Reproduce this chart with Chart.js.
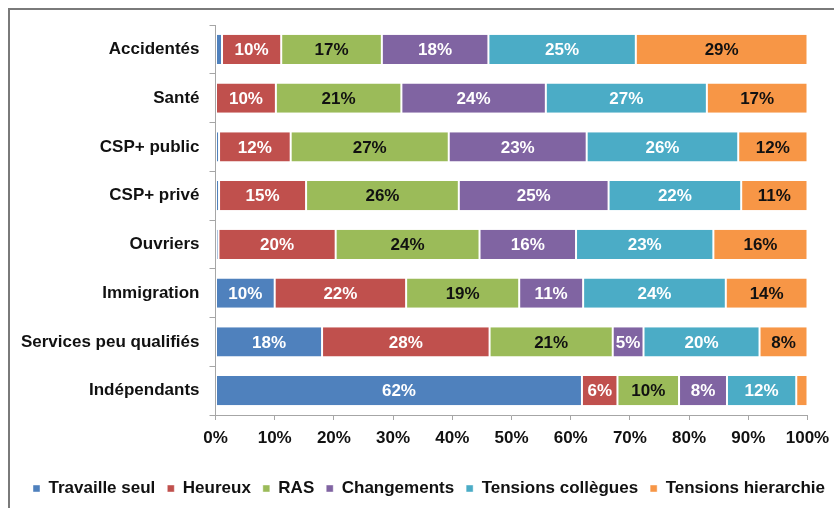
<!DOCTYPE html>
<html>
<head>
<meta charset="utf-8">
<script src="https://cdn.jsdelivr.net/npm/chart.js@4.4.1/dist/chart.umd.min.js"></script>
<style>
  html, body { margin: 0; padding: 0; background: #fff; }
  #wrap { width: 834px; height: 508px; position: relative; }
</style>
</head>
<body>
<div id="wrap"><canvas id="chart" width="834" height="508"></canvas></div>
<script>
// Catégories (axe vertical)
const categories = ["Accidentés", "Santé", "CSP+ public", "CSP+ privé", "Ouvriers", "Immigration", "Services peu qualifiés", "Indépendants"];

// Séries (en %)
const travailleSeul = [1.1, 0, 0.6, 0.6, 0.5, 10.0, 18.0, 61.9];
const heureux = [10.0, 10.2, 12.1, 14.7, 19.8, 22.2, 28.3, 6.0];
const ras = [17.0, 21.2, 26.7, 25.8, 24.3, 19.1, 20.8, 10.4];
const changements = [18.0, 24.4, 23.3, 25.3, 16.3, 10.8, 5.2, 8.1];
const tensionsCollegues = [24.9, 27.2, 25.6, 22.4, 23.2, 24.1, 19.6, 11.7];
const tensionsHierarchie = [29.0, 17.0, 11.7, 11.2, 15.9, 13.8, 8.1, 1.9];

// Graduations de l'axe horizontal
const xTicks = [0, 10, 20, 30, 40, 50, 60, 70, 80, 90, 100];

const FONT = "'Liberation Sans', Arial, sans-serif";

function serie(label, data, color, textColor) {
  return {
    label,
    data,
    backgroundColor: color,
    borderColor: "rgba(255,255,255,0.85)",
    borderWidth: { left: 1, right: 1, top: 0, bottom: 0 },
    borderSkipped: false,
    barPercentage: 0.6,
    categoryPercentage: 1,
    textColor
  };
}

// Etiquettes de valeur au centre des segments
const etiquettes = {
  id: "etiquettes",
  afterDatasetsDraw(chart) {
    const ctx = chart.ctx;
    ctx.save();
    ctx.font = "bold 17px " + FONT;
    ctx.textAlign = "center";
    ctx.textBaseline = "middle";
    chart.data.datasets.forEach((ds, i) => {
      const meta = chart.getDatasetMeta(i);
      meta.data.forEach((bar, j) => {
        const v = ds.data[j];
        if (v < 4) return;
        const p = bar.getCenterPoint();
        ctx.fillStyle = ds.textColor;
        ctx.fillText(Math.round(v) + "%", p.x, p.y + 1);
      });
    });
    ctx.restore();
  }
};

// Cadre gris + décalage de la légende
const cadre = {
  id: "cadre",
  afterLayout(chart) {
    chart.legend.left += 12;
    chart.legend.right += 12;
  },
  beforeDraw(chart) {
    const ctx = chart.ctx;
    ctx.save();
    ctx.strokeStyle = "#7a7a7a";
    ctx.lineWidth = 2;
    ctx.strokeRect(9, 9, 900, 600);
    ctx.restore();
  }
};

new Chart(document.getElementById("chart"), {
  type: "bar",
  data: {
    labels: categories,
    datasets: [
      serie("Travaille seul", travailleSeul, "#4f81bd", "#fff"),
      serie("Heureux", heureux, "#c0504d", "#fff"),
      serie("RAS", ras, "#9bbb59", "#111"),
      serie("Changements", changements, "#8064a2", "#fff"),
      serie("Tensions collègues", tensionsCollegues, "#4bacc6", "#fff"),
      serie("Tensions hierarchie", tensionsHierarchie, "#f79646", "#111")
    ]
  },
  options: {
    indexAxis: "y",
    responsive: false,
    animation: false,
    layout: { padding: { top: 25, left: 0, right: 0, bottom: 1 } },
    plugins: {
      legend: {
        position: "bottom",
        labels: {
          boxWidth: 7,
          boxHeight: 7,
          padding: 12,
          color: "#111",
          font: { family: FONT, size: 17, weight: "bold" }
        }
      },
      tooltip: { enabled: false }
    },
    scales: {
      x: {
        stacked: true,
        min: 0,
        max: 100,
        afterBuildTicks(scale) {
          scale.ticks = xTicks.map(v => ({ value: v }));
        },
        afterFit(scale) {
          scale.height = 53;
          scale.paddingRight = 26.5;
        },
        border: { color: "#a6a6a6", width: 1 },
        grid: { drawOnChartArea: false, drawTicks: true, tickLength: 5, color: "#a6a6a6" },
        ticks: {
          padding: 8,
          color: "#111",
          font: { family: FONT, size: 17, weight: "bold" },
          callback: v => v + "%"
        }
      },
      y: {
        stacked: true,
        afterFit(scale) { scale.width = 215.5; },
        border: { color: "#a6a6a6", width: 1 },
        grid: { offset: true, drawOnChartArea: false, drawTicks: true, tickLength: 6, color: "#a6a6a6" },
        ticks: {
          padding: 10,
          color: "#111",
          font: { family: FONT, size: 17, weight: "bold" }
        }
      }
    }
  },
  plugins: [cadre, etiquettes]
});
</script>
</body>
</html>
